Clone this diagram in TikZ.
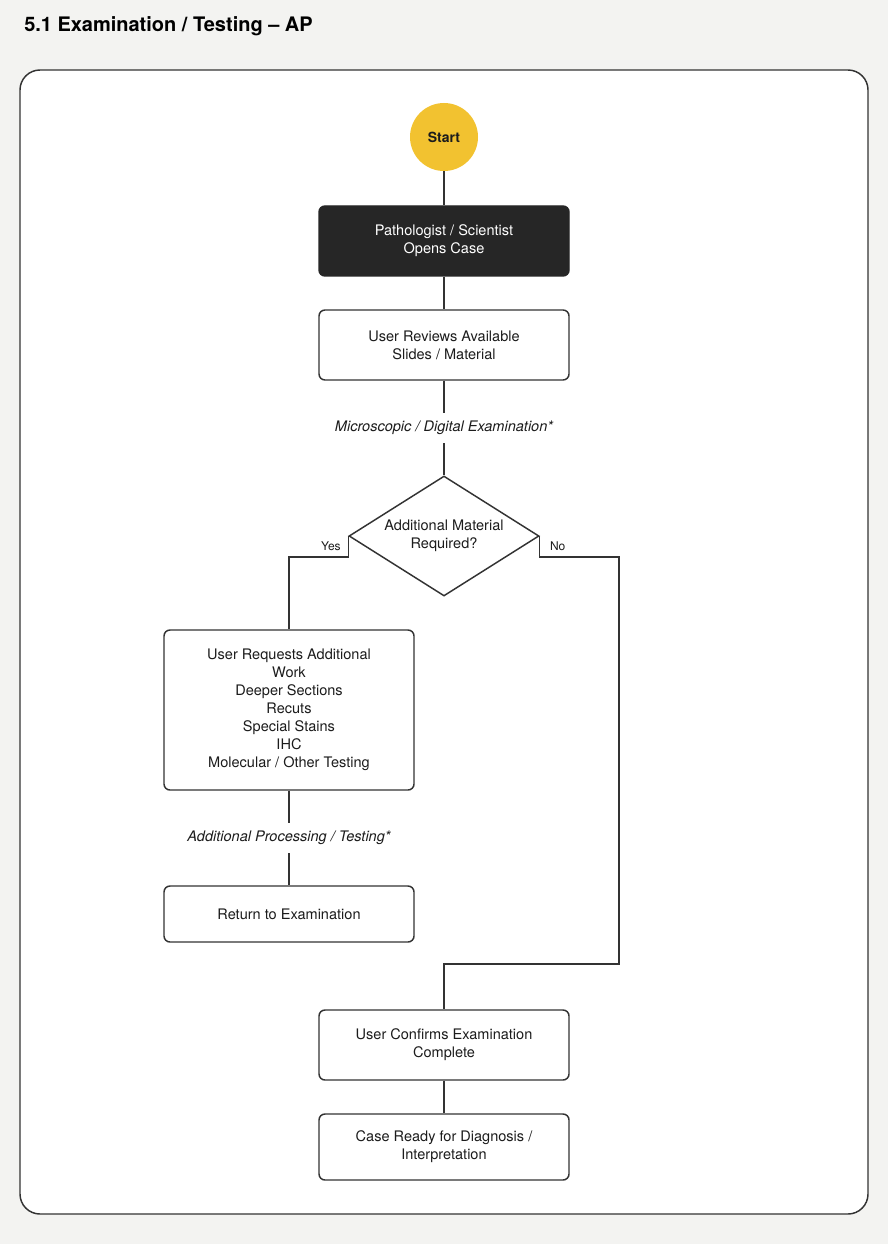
\documentclass[tikz,border=0pt]{standalone}
\usepackage{fontspec}
\setmainfont{TeX Gyre Heros}
\usetikzlibrary{shapes.geometric}
\definecolor{bgpage}{HTML}{F3F3F1}
\definecolor{ink}{HTML}{1C1C1C}
\definecolor{edgegray}{HTML}{333333}
\definecolor{startyellow}{HTML}{F2C230}
\definecolor{darkbox}{HTML}{262626}
\begin{document}
\begin{tikzpicture}[
        x=0.75pt, y=-0.75pt,
        every node/.style={font=\fontsize{10.9}{13.5}\selectfont, text=ink},
        stepbox/.style={draw=edgegray, line width=1.1pt, rounded corners=4.5pt, fill=white, minimum width=187.5pt, minimum height=52.5pt, align=center, inner sep=2pt},
        darkstep/.style={stepbox, fill=darkbox, draw=darkbox, text=white},
        startnode/.style={circle, fill=startyellow, minimum size=51pt, inner sep=0pt, font=\bfseries\fontsize{10.5}{13.5}\selectfont},
        decision/.style={diamond, draw=edgegray, line width=1.1pt, fill=white, aspect=1.583, inner sep=0pt, minimum width=142.5pt, minimum height=90pt, align=center},
        note/.style={font=\itshape\fontsize{10.9}{13.5}\selectfont, inner sep=0pt, minimum height=22.5pt},
        branch/.style={font=\fontsize{9}{11}\selectfont, inner sep=0pt},
        link/.style={draw=edgegray, line width=1.1pt}
    ]
 \path[use as bounding box, fill=bgpage] (0,0) rectangle (888,1244);
 \node[anchor=base west, inner sep=0pt, text=black, font=\bfseries\fontsize{15}{18}\selectfont] (title) at (24,32) {5.1 Examination / Testing – AP};
 \draw[draw=edgegray, fill=white, line width=1.1pt, rounded corners=15pt] (20,70) rectangle (868,1214);
 % main column
 \node[startnode] (start) at (444,137) {Start};
 \node[darkstep] (opens) at (444,241) {Pathologist / Scientist\\Opens Case};
 \node[stepbox] (reviews) at (444,345) {User Reviews Available\\Slides / Material};
 \node[note] (exam) at (444,428) {Microscopic / Digital Examination*};
 \node[decision] (more) at (444,536) {Additional Material\\Required?};
 % yes branch
 \node[stepbox, minimum height=120pt] (request) at (289,710) {User Requests Additional\\Work\\Deeper Sections\\Recuts\\Special Stains\\IHC\\Molecular / Other Testing};
 \node[note] (processing) at (289,838) {Additional Processing / Testing*};
 \node[stepbox, minimum height=42pt] (return) at (289,914) {Return to Examination};
 % no branch
 \coordinate (nocorner) at (619,964);
 \node[stepbox] (confirm) at (444,1045) {User Confirms Examination\\Complete};
 \node[stepbox, minimum height=49.5pt] (ready) at (444,1147) {Case Ready for Diagnosis /\\Interpretation};
 \node[branch, anchor=east] (yes) at ([xshift=-5.5pt, yshift=-7.5pt]more.west) {Yes};
 \node[branch, anchor=west] (no) at ([xshift=7.5pt, yshift=-7.5pt]more.east) {No};
 \draw[link] (start) -- (opens);
 \draw[link] (opens) -- (reviews);
 \draw[link] (reviews) -- (exam);
 \draw[link] (exam) -- (more);
 \draw[link] (more.west) -- ++(0,21) -| (request.north);
 \draw[link] (request) -- (processing);
 \draw[link] (processing) -- (return);
 \draw[link] (more.east) -- ++(0,21) -| (nocorner) -| (confirm.north);
 \draw[link] (confirm) -- (ready);
\end{tikzpicture}
\end{document}
